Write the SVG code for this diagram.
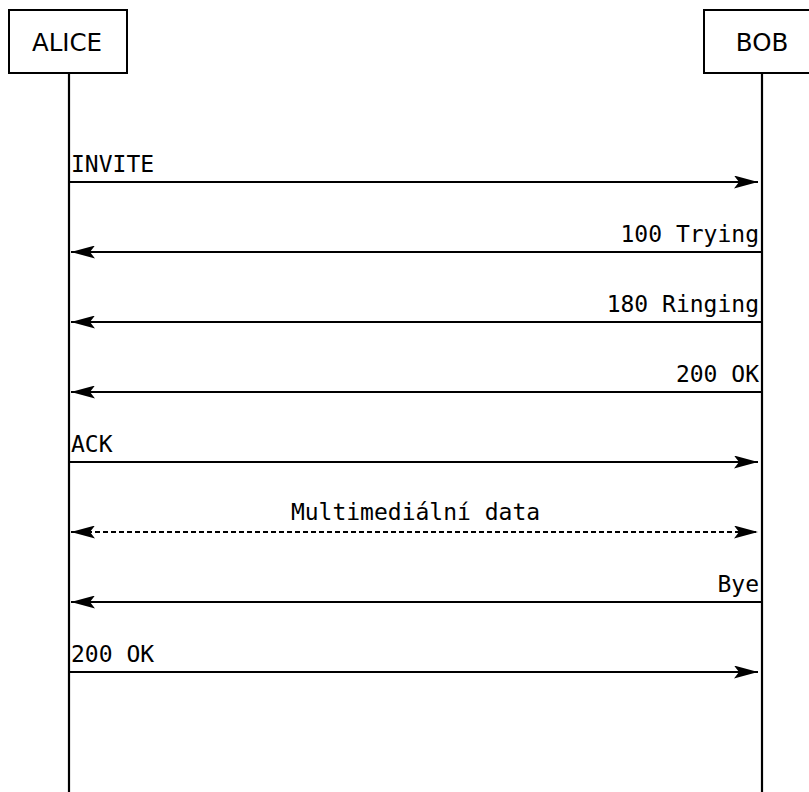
<svg xmlns="http://www.w3.org/2000/svg" width="809" height="792" viewBox="0 0 809 792">
<style>
.box{fill:#fff;stroke:#000;stroke-width:2}
.life{stroke:#000;stroke-width:2.2;fill:none}
.msg{stroke:#000;stroke-width:2.2;fill:none}
.dash{stroke-dasharray:5,3}
.name{font-family:"DejaVu Sans",Verdana,sans-serif;font-size:24.5px;fill:#000;text-anchor:middle}
.lbl{font-family:"DejaVu Sans Mono","Liberation Mono",monospace;font-size:23px;fill:#000}
.r{text-anchor:end}
.m{text-anchor:middle}
</style>
<defs>
<marker id="ah" viewBox="0 0 24 13" refX="24" refY="6.5" markerWidth="24" markerHeight="13" markerUnits="userSpaceOnUse" orient="auto-start-reverse">
<path d="M0,0 L24,6.5 L0,13 L5,6.5 Z" fill="#000"/>
</marker>
</defs>
<g id="alice">
<rect class="box" x="9" y="10" width="118" height="63"/>
<text class="name" x="67" y="51">ALICE</text>
<line class="life" x1="69" y1="73" x2="69" y2="792"/>
</g>
<g id="bob">
<rect class="box" x="704" y="10" width="118" height="63"/>
<text class="name" x="762" y="51">BOB</text>
<line class="life" x1="762" y1="73" x2="762" y2="792"/>
</g>
<g id="connectors">
<line class="msg" x1="69" y1="182" x2="758" y2="182" marker-end="url(#ah)"/>
<line class="msg" x1="762" y1="252" x2="71" y2="252" marker-end="url(#ah)"/>
<line class="msg" x1="762" y1="322" x2="71" y2="322" marker-end="url(#ah)"/>
<line class="msg" x1="762" y1="392" x2="71" y2="392" marker-end="url(#ah)"/>
<line class="msg" x1="69" y1="462" x2="758" y2="462" marker-end="url(#ah)"/>
<line class="msg dash" x1="71" y1="532" x2="758" y2="532" marker-start="url(#ah)" marker-end="url(#ah)"/>
<line class="msg" x1="762" y1="602" x2="71" y2="602" marker-end="url(#ah)"/>
<line class="msg" x1="69" y1="672" x2="758" y2="672" marker-end="url(#ah)"/>
</g>
<g id="labels">
<text class="lbl" x="71" y="172">INVITE</text>
<text class="lbl r" x="759" y="242">100 Trying</text>
<text class="lbl r" x="759" y="312">180 Ringing</text>
<text class="lbl r" x="759" y="382">200 OK</text>
<text class="lbl" x="71" y="452">ACK</text>
<text class="lbl m" x="415.5" y="520">Multimediální data</text>
<text class="lbl r" x="759" y="592">Bye</text>
<text class="lbl" x="71" y="662">200 OK</text>
</g>
</svg>
